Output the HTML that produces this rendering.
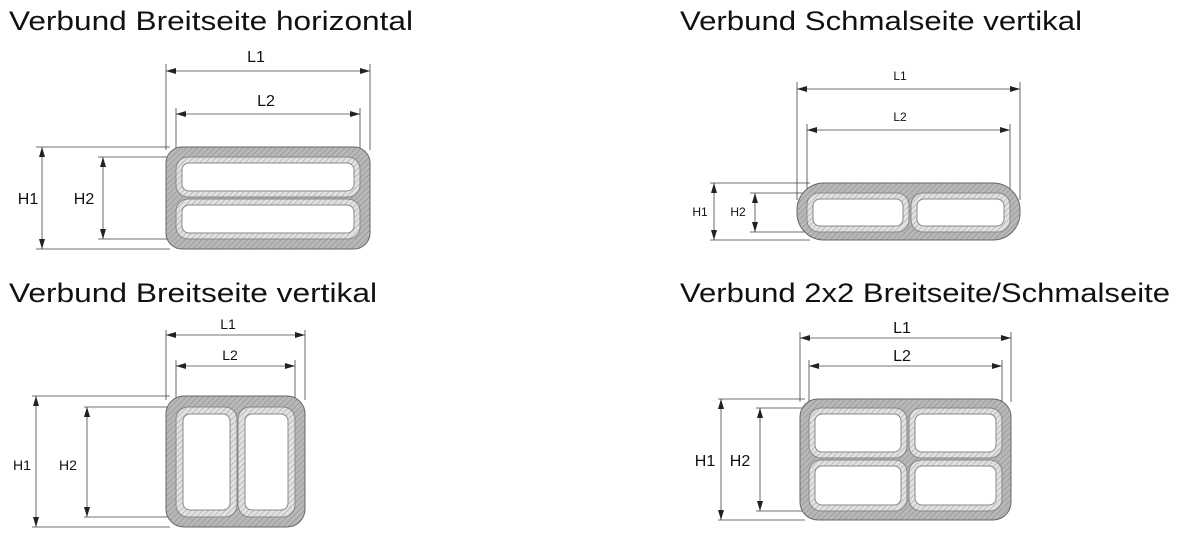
<!DOCTYPE html>
<html><head><meta charset="utf-8"><style>
html,body{margin:0;padding:0;background:#fff;}
svg{display:block;}
</style></head><body>
<svg width="1182" height="533" viewBox="0 0 1182 533" xmlns="http://www.w3.org/2000/svg" font-family="Liberation Sans, sans-serif">
<defs>
<pattern id="hd" width="4" height="4" patternUnits="userSpaceOnUse" patternTransform="rotate(45)">
<rect width="4" height="4" fill="#b8b8b8"/><line x1="0" y1="0" x2="0" y2="4" stroke="#909090" stroke-width="1.3"/></pattern>
<pattern id="hl" width="4" height="4" patternUnits="userSpaceOnUse" patternTransform="rotate(45)">
<rect width="4" height="4" fill="#e2e2e2"/><line x1="0" y1="0" x2="0" y2="4" stroke="#a0a0a0" stroke-width="1.1"/></pattern>
<marker id="a" viewBox="0 0 10 6" refX="10" refY="3" markerWidth="10" markerHeight="6" markerUnits="userSpaceOnUse" orient="auto-start-reverse">
<path d="M0,0 L10,3 L0,6 z" fill="#222"/></marker>
</defs>
<g font-size="27" fill="#111">
<text x="9" y="30" textLength="404" lengthAdjust="spacingAndGlyphs">Verbund Breitseite horizontal</text>
<text x="680" y="30" textLength="402" lengthAdjust="spacingAndGlyphs">Verbund Schmalseite vertikal</text>
<text x="9" y="302" textLength="368" lengthAdjust="spacingAndGlyphs">Verbund Breitseite vertikal</text>
<text x="680" y="302" textLength="490" lengthAdjust="spacingAndGlyphs">Verbund 2x2 Breitseite/Schmalseite</text>
</g>

<g stroke="#444" stroke-width="0.8" fill="none">
<path d="M166,64V150 M370,64V150 M176,108V160 M360,108V160 M36,147H170 M98,157H180 M36,249H170 M98,239H180"/>
<line x1="166" y1="71" x2="370" y2="71" marker-start="url(#a)" marker-end="url(#a)"/>
<line x1="176" y1="114" x2="360" y2="114" marker-start="url(#a)" marker-end="url(#a)"/>
<line x1="42" y1="147" x2="42" y2="249" marker-start="url(#a)" marker-end="url(#a)"/>
<line x1="103" y1="157" x2="103" y2="239" marker-start="url(#a)" marker-end="url(#a)"/>
<path d="M797,82V200 M1020,82V200 M807,124V200 M1010,124V200 M710,183H810 M750,193H815 M710,240H810 M750,232H815"/>
<line x1="797" y1="89" x2="1020" y2="89" marker-start="url(#a)" marker-end="url(#a)"/>
<line x1="807" y1="130" x2="1010" y2="130" marker-start="url(#a)" marker-end="url(#a)"/>
<line x1="714" y1="183" x2="714" y2="240" marker-start="url(#a)" marker-end="url(#a)"/>
<line x1="755" y1="193" x2="755" y2="232" marker-start="url(#a)" marker-end="url(#a)"/>
<path d="M166,330V400 M305,330V400 M176,360V410 M295,360V410 M32,396H170 M84,407H180 M32,527H170 M84,517H180"/>
<line x1="166" y1="335" x2="305" y2="335" marker-start="url(#a)" marker-end="url(#a)"/>
<line x1="176" y1="366" x2="295" y2="366" marker-start="url(#a)" marker-end="url(#a)"/>
<line x1="36" y1="396" x2="36" y2="527" marker-start="url(#a)" marker-end="url(#a)"/>
<line x1="87" y1="407" x2="87" y2="517" marker-start="url(#a)" marker-end="url(#a)"/>
<path d="M800,332V402 M1011,332V402 M809,360V410 M1002,360V410 M718,399H805 M756,408H812 M718,520H805 M756,511H812"/>
<line x1="800" y1="338" x2="1011" y2="338" marker-start="url(#a)" marker-end="url(#a)"/>
<line x1="809" y1="366" x2="1002" y2="366" marker-start="url(#a)" marker-end="url(#a)"/>
<line x1="721" y1="399" x2="721" y2="520" marker-start="url(#a)" marker-end="url(#a)"/>
<line x1="760" y1="408" x2="760" y2="511" marker-start="url(#a)" marker-end="url(#a)"/>
</g>

<g fill="#111">
<text x="256" y="62" font-size="16" text-anchor="middle">L1</text>
<text x="266" y="106" font-size="16" text-anchor="middle">L2</text>
<text x="28" y="204" font-size="16" text-anchor="middle">H1</text>
<text x="84" y="204" font-size="16" text-anchor="middle">H2</text>
<text x="900" y="80" font-size="12" text-anchor="middle">L1</text>
<text x="900" y="121" font-size="12" text-anchor="middle">L2</text>
<text x="700" y="216" font-size="12" text-anchor="middle">H1</text>
<text x="738" y="216" font-size="12" text-anchor="middle">H2</text>
<text x="228" y="329" font-size="14" text-anchor="middle">L1</text>
<text x="230" y="360" font-size="14" text-anchor="middle">L2</text>
<text x="22" y="470" font-size="14" text-anchor="middle">H1</text>
<text x="68" y="470" font-size="14" text-anchor="middle">H2</text>
<text x="902" y="333" font-size="16" text-anchor="middle">L1</text>
<text x="902" y="361" font-size="16" text-anchor="middle">L2</text>
<text x="705" y="466" font-size="16" text-anchor="middle">H1</text>
<text x="740" y="466" font-size="16" text-anchor="middle">H2</text>
</g>

<g stroke="#666" stroke-width="1">
<rect x="166" y="147" width="204" height="102" rx="16" fill="url(#hd)"/>
<rect x="176" y="157" width="184" height="40" rx="12" fill="url(#hl)" stroke="#888"/>
<rect x="182" y="163" width="172" height="28" rx="7" fill="#fff" stroke="#888"/>
<rect x="176" y="199" width="184" height="40" rx="12" fill="url(#hl)" stroke="#888"/>
<rect x="182" y="205" width="172" height="28" rx="7" fill="#fff" stroke="#888"/>
<rect x="797" y="183" width="223" height="57" rx="27" fill="url(#hd)"/>
<rect x="807" y="193" width="102" height="39" rx="12" fill="url(#hl)" stroke="#888"/>
<rect x="813" y="199" width="90" height="27" rx="7" fill="#fff" stroke="#888"/>
<rect x="911" y="193" width="99" height="39" rx="12" fill="url(#hl)" stroke="#888"/>
<rect x="917" y="199" width="87" height="27" rx="7" fill="#fff" stroke="#888"/>
<rect x="166" y="396" width="139" height="131" rx="18" fill="url(#hd)"/>
<rect x="176" y="407" width="61" height="110" rx="12" fill="url(#hl)" stroke="#888"/>
<rect x="183" y="414" width="47" height="96" rx="7" fill="#fff" stroke="#888"/>
<rect x="238" y="407" width="57" height="110" rx="12" fill="url(#hl)" stroke="#888"/>
<rect x="245" y="414" width="43" height="96" rx="7" fill="#fff" stroke="#888"/>
<rect x="800" y="399" width="211" height="121" rx="18" fill="url(#hd)"/>
<rect x="809" y="408" width="98" height="50" rx="12" fill="url(#hl)" stroke="#888"/>
<rect x="815" y="414" width="86" height="38" rx="7" fill="#fff" stroke="#888"/>
<rect x="909" y="408" width="93" height="50" rx="12" fill="url(#hl)" stroke="#888"/>
<rect x="915" y="414" width="81" height="38" rx="7" fill="#fff" stroke="#888"/>
<rect x="809" y="460" width="98" height="51" rx="12" fill="url(#hl)" stroke="#888"/>
<rect x="815" y="466" width="86" height="39" rx="7" fill="#fff" stroke="#888"/>
<rect x="909" y="460" width="93" height="51" rx="12" fill="url(#hl)" stroke="#888"/>
<rect x="915" y="466" width="81" height="39" rx="7" fill="#fff" stroke="#888"/>
</g>
</svg>
</body></html>
